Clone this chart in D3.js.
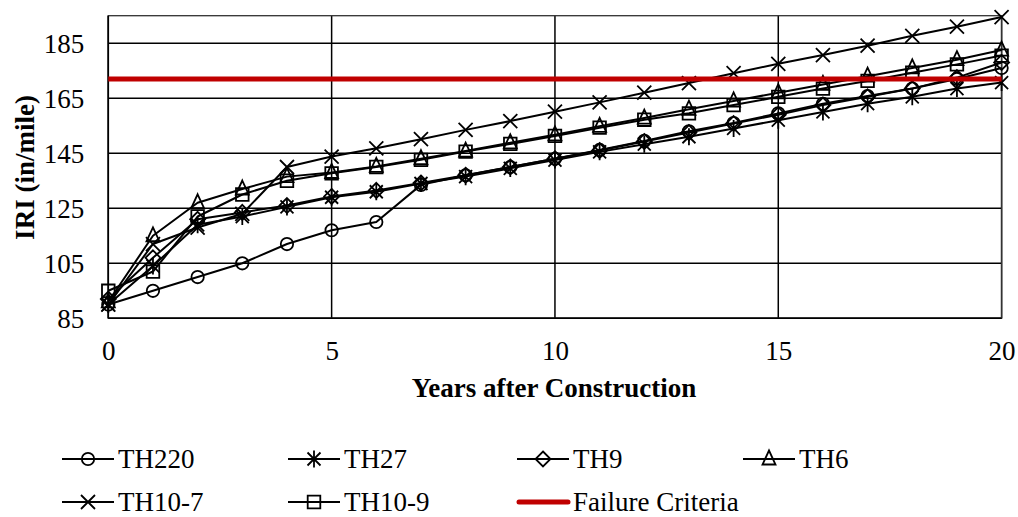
<!DOCTYPE html>
<html>
<head>
<meta charset="utf-8">
<script src="https://cdn.jsdelivr.net/npm/d3@7"></script>
<style>
  html, body { margin: 0; padding: 0; background: #fff; }
  svg { display: block; }
  svg text { font-family: "Liberation Serif", "Times New Roman", serif !important; fill: #000; }
</style>
</head>
<body>
<svg id="chart" width="1018" height="517"></svg>
<script>
// ---- data ----
const years = [0,1,2,3,4,5,6,7,8,9,10,11,12,13,14,15,16,17,18,19,20];
const th220  = [90, 95, 100, 105, 112, 117, 120, 133.5, 137, 140, 143, 146.2, 149.5, 153, 156, 159.5, 163, 165.8, 168.5, 172, 176];
const th27   = [90, 104, 119, 122, 125.5, 129, 131, 134, 136.5, 139.5, 142.5, 145.5, 148.3, 151, 154, 157, 160, 163, 165.5, 168.5, 170.7];
const th9    = [92, 107, 121, 123.5, 126, 129.3, 131.5, 134.2, 137, 140, 143, 146, 149.3, 152.5, 155.8, 159, 162.5, 165.5, 168.5, 172.5, 178];
const th6    = [91, 115, 127, 132, 136.5, 138, 140.2, 143, 145.8, 148.8, 151.7, 154.8, 157.8, 161, 164, 167, 170, 173, 176, 179, 182.5];
const th10_7 = [90, 112, 118, 123, 140, 143.8, 146.8, 150.1, 153.5, 156.7, 160.1, 163.5, 167, 170.5, 174.1, 177.5, 180.7, 184.1, 187.7, 191, 194.5];
const th10_9 = [95, 102, 122, 130, 135, 137.7, 140, 142.6, 145.6, 148.4, 151.3, 154.3, 157.2, 159.5, 162.5, 165.5, 168.5, 171.3, 174.3, 177.3, 180.5];
const failure = [172, 172, 172, 172, 172, 172, 172, 172, 172, 172, 172, 172, 172, 172, 172, 172, 172, 172, 172, 172, 172];
const seriesNames = ["TH220", "TH27", "TH9", "TH6", "TH10-7", "TH10-9", "Failure Criteria"];
const seriesMarkers = ["circle", "asterisk", "diamond", "triangle", "x", "square", "none"];
const xTicks = [0, 5, 10, 15, 20];
const yTicks = [85, 105, 125, 145, 165, 185];
const xTitle = "Years after Construction";
const yTitle = "IRI (in/mile)";

const seriesValues = [th220, th27, th9, th6, th10_7, th10_9, failure];

// ---- layout ----
const FS = 27;
const svg = d3.select("#chart");
const L = 108.3, R = 1001.6, T = 15.7, B = 318.3;
const x = d3.scaleLinear().domain([0, 20]).range([L, R]);
const y = d3.scaleLinear().domain([85, 195]).range([B, T]);

// gridlines
const g = svg.append("g");
g.selectAll("line.hg").data(yTicks).join("line")
  .attr("x1", L).attr("x2", R)
  .attr("y1", d => y(d)).attr("y2", d => y(d))
  .attr("stroke", "#000").attr("stroke-width", 1.5);
g.selectAll("line.vg").data(xTicks).join("line")
  .attr("y1", T).attr("y2", B)
  .attr("x1", d => x(d)).attr("x2", d => x(d))
  .attr("stroke", "#000").attr("stroke-width", 1.5);
g.append("rect").attr("x", L).attr("y", T).attr("width", R - L).attr("height", B - T)
  .attr("fill", "none").attr("stroke", "#333").attr("stroke-width", 1.3);
g.append("line").attr("x1", L).attr("x2", L).attr("y1", T).attr("y2", B).attr("stroke", "#000").attr("stroke-width", 1.5);
g.append("line").attr("x1", L).attr("x2", R).attr("y1", B).attr("y2", B).attr("stroke", "#000").attr("stroke-width", 1.5);

// axes labels via d3 axes (no tick lines)
const xAxis = svg.append("g").attr("transform", `translate(0,${B})`)
  .call(d3.axisBottom(x).tickValues(xTicks).tickSize(0).tickPadding(0));
xAxis.attr("font-family", null).attr("font-size", null);
xAxis.select(".domain").remove();
xAxis.selectAll("text").attr("font-size", FS)
  .attr("dy", null).attr("y", 42);

const yAxis = svg.append("g").attr("transform", `translate(${L},0)`)
  .call(d3.axisLeft(y).tickValues(yTicks).tickSize(0).tickPadding(0));
yAxis.attr("font-family", null).attr("font-size", null);
yAxis.select(".domain").remove();
yAxis.selectAll("text").attr("font-size", FS)
  .attr("x", -24).attr("dy", "0.34em");

svg.append("text").attr("x", 554).attr("y", 397).attr("text-anchor", "middle")
  .attr("font-size", FS).attr("font-weight", "bold").text(xTitle);
svg.append("text").attr("transform", "translate(33.5,167.5) rotate(-90)")
  .attr("text-anchor", "middle").attr("font-size", FS).attr("font-weight", "bold").text(yTitle);

// markers
function markerPath(type) {
  switch (type) {
    case "circle": return d3.symbol(d3.symbolCircle, Math.PI * 6.2 * 6.2)();
    case "square": return "M-6.3,-6.3H6.3V6.3H-6.3Z";
    case "diamond": return "M0,-7.5L7.5,0L0,7.5L-7.5,0Z";
    case "triangle": return "M0,-8.5L6.5,5.5H-6.5Z";
    case "x": return "M-7,-7L7,7M-7,7L7,-7";
    case "asterisk": return "M-6.5,-6.5L6.5,6.5M-6.5,6.5L6.5,-6.5M0,-8.5V8.5";
  }
  return null;
}

const line = d3.line().x((d, i) => x(years[i])).y(d => y(d));
const plot = svg.append("g");
seriesValues.forEach((vals, si) => {
  const isFail = seriesMarkers[si] === "none";
  plot.append("path").datum(vals).attr("d", line)
    .attr("fill", "none")
    .attr("stroke", isFail ? "#C00000" : "#000")
    .attr("stroke-width", isFail ? 5 : 2)
    .attr("stroke-linejoin", "round");
  if (!isFail) {
    plot.append("g").selectAll("path").data(vals).join("path")
      .attr("transform", (d, i) => `translate(${x(years[i])},${y(d)})`)
      .attr("d", markerPath(seriesMarkers[si]))
      .attr("fill", "none").attr("stroke", "#000").attr("stroke-width", 1.8);
  }
});

// legend
const legX = [62, 288, 517, 743];
const legY = [459, 502];
const leg = svg.append("g");
seriesNames.forEach((name, i) => {
  const cx = legX[i % 4], cy = legY[Math.floor(i / 4)];
  const isFail = seriesMarkers[i] === "none";
  leg.append("line").attr("x1", cx + (isFail ? 2 : 0)).attr("x2", cx + (isFail ? 51 : 52))
    .attr("y1", cy).attr("y2", cy)
    .attr("stroke", isFail ? "#C00000" : "#000")
    .attr("stroke-width", isFail ? 5 : 2)
    .attr("stroke-linecap", isFail ? "round" : "butt");
  if (!isFail) {
    leg.append("path").attr("transform", `translate(${cx + 26},${cy})`)
      .attr("d", markerPath(seriesMarkers[i]))
      .attr("fill", "none").attr("stroke", "#000").attr("stroke-width", 1.8);
  }
  leg.append("text").attr("x", cx + 56).attr("y", cy + 9)
    .attr("font-size", FS).text(name);
});
</script>
</body>
</html>
